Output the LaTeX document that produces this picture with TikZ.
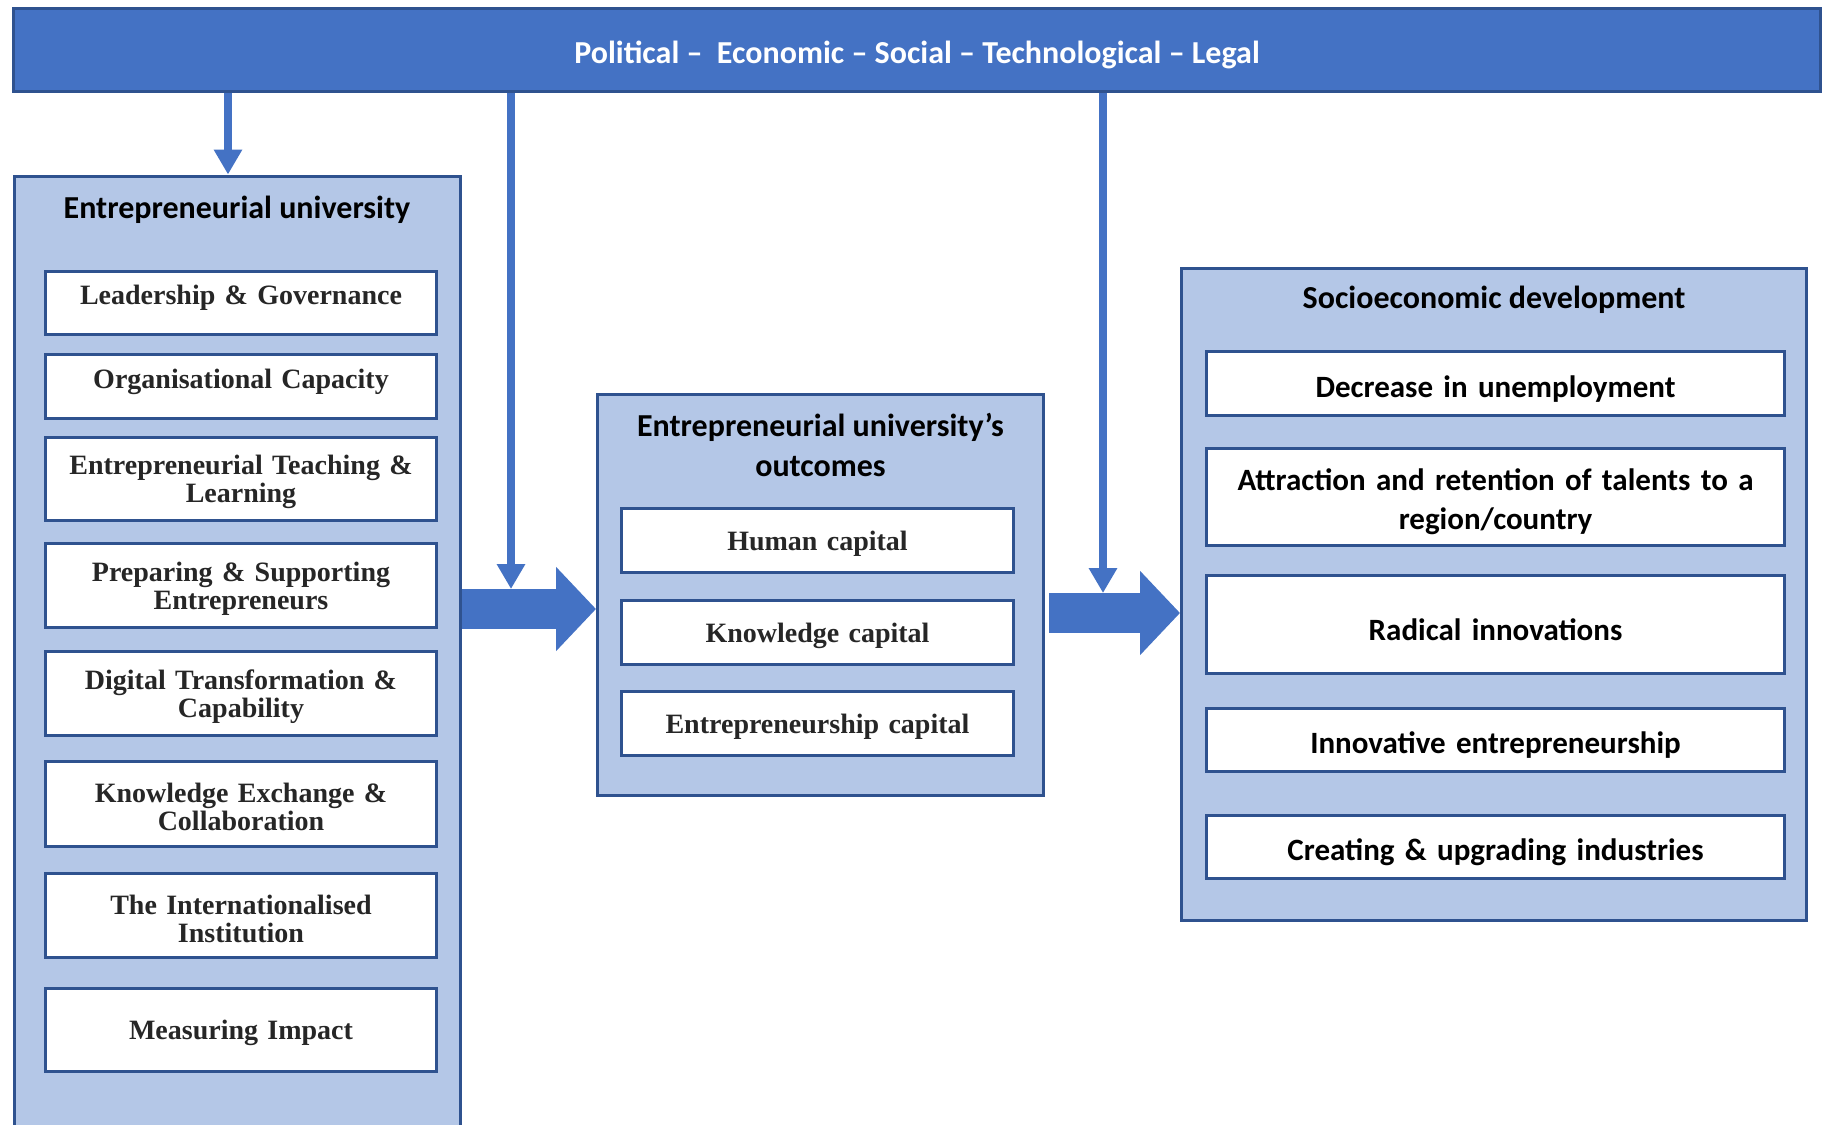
\documentclass[tikz,border=0pt]{standalone}
\usepackage{fontspec}
\setmainfont{Carlito}
\newfontfamily\serifbold{Liberation Serif}
\usetikzlibrary{arrows.meta, positioning}
\definecolor{barblue}{HTML}{4472C4}
\definecolor{edgeblue}{HTML}{2F528F}
\definecolor{paleblue}{HTML}{B4C7E7}
\definecolor{inkgray}{HTML}{262626}
\tikzstyle{panel}=[draw=edgeblue,fill=paleblue,line width=1.5pt,rectangle,inner sep=0pt]
\tikzstyle{factor}=[draw=edgeblue,fill=white,line width=1.5pt,rectangle,align=center,
  text=inkgray,font=\serifbold\bfseries\fontsize{14}{14}\selectfont,
  minimum width=195.5pt,text width=186pt,execute at begin node={\rule{0pt}{13pt}}]
\tikzstyle{impact}=[draw=edgeblue,fill=white,line width=1.5pt,rectangle,align=center,
  font=\bfseries\fontsize{15.5}{19.5}\selectfont,minimum width=289pt,text width=280pt,
  execute at begin node={\rule{0pt}{16pt}}]
\tikzstyle{heading}=[font=\bfseries\fontsize{16}{20}\selectfont,align=center]
\tikzstyle{feed}=[draw=barblue,line width=4pt,-{Triangle[width=13.5pt,length=12.5pt]}]
\tikzstyle{flow}=[draw=barblue,line width=20pt,-{Triangle[width=41pt,length=20pt]}]

\begin{document}
\begin{tikzpicture}[x=0.5pt,y=-0.5pt]
  \useasboundingbox (0,0) rectangle (1823,1124);
  \clip (0,0) rectangle (1823,1124);
  \fill[white] (0,0) rectangle (1823,1124);
  % environment bar
  \node[draw=edgeblue,fill=barblue,line width=1.5pt,minimum width=903.5pt,minimum height=41.5pt,
    text=white,font=\bfseries\fontsize{16}{20}\selectfont] (pest) at (917,50)
    {\rule{0pt}{16.5pt}Political --\ \ Economic -- Social -- Technological -- Legal};
  % three panels
  \node[panel,minimum width=223pt,minimum height=490pt,anchor=north] (uni) at (237.5,174.5) {};
  \node[panel,minimum width=223pt,minimum height=200.5pt] (outc) at (820.5,595) {};
  \node[panel,minimum width=312.5pt,minimum height=326pt] (soc) at (1494,594) {};
  \node[heading] (unititle) at (237,210) {Entrepreneurial university};
  \node[heading] (outctitle) at (820.5,445) {Entrepreneurial university’s\\outcomes};
  \node[heading] (soctitle) at (1494,300) {Socioeconomic development};
  % entrepreneurial university
  \node[factor,minimum height=31.5pt,text depth=12pt] (lead) at (241,303) {Leadership \& Governance};
  \node[factor,minimum height=32pt,text depth=11pt] (orgcap) at (241,386.5) {Organisational Capacity};
  \node[factor,minimum height=41.5pt] (teach) at (241,479) {Entrepreneurial Teaching \&\\Learning};
  \node[factor,minimum height=42pt] (prep) at (241,585.5) {Preparing \& Supporting\\Entrepreneurs};
  \node[factor,minimum height=42pt] (digit) at (241,693.5) {Digital Transformation \&\\Capability};
  \node[factor,minimum height=42.5pt] (kex) at (241,804) {Knowledge Exchange \&\\Collaboration};
  \node[factor,minimum height=42pt] (intl) at (241,915.5) {The Internationalised\\Institution};
  \node[factor,minimum height=41.5pt] (meas) at (241,1030) {Measuring Impact};
  % outcomes
  \node[factor,minimum width=196pt,minimum height=32pt] (human) at (817.5,540.5) {Human capital};
  \node[factor,minimum width=196pt,minimum height=32pt] (know) at (817.5,632.5) {Knowledge capital};
  \node[factor,minimum width=196pt,minimum height=32pt] (entcap) at (817.5,723) {Entrepreneurship capital};
  % socioeconomic development
  \node[impact,minimum height=32pt] (unemp) at (1495.5,383.5) {Decrease in unemployment};
  \node[impact,minimum height=48.5pt] (talent) at (1495.5,497) {Attraction and retention of talents to a\\region/country};
  \node[impact,minimum height=49pt] (radical) at (1495.5,624.5) {Radical innovations};
  \node[impact,minimum height=31.5pt] (innov) at (1495.5,740) {Innovative entrepreneurship};
  \node[impact,minimum height=31.5pt] (indus) at (1495.5,847) {Creating \& upgrading industries};
  % arrows
  \coordinate (drop0) at (228,0);
  \coordinate (flowA) at (0,609);
  \coordinate (flowB) at (0,613);
  \coordinate (drop1) at (511,589);
  \coordinate (drop2) at (1103,593);
  \draw[flow] (uni.east |- flowA) -- (outc.west |- flowA);
  \draw[flow] ([xshift=2pt]outc.east |- flowB) -- (soc.west |- flowB);
  \draw[feed] (pest.south -| drop0) -- (uni.north -| drop0);
  \draw[feed] (pest.south -| drop1) -- (drop1);
  \draw[feed] (pest.south -| drop2) -- (drop2);
\end{tikzpicture}
\end{document}
